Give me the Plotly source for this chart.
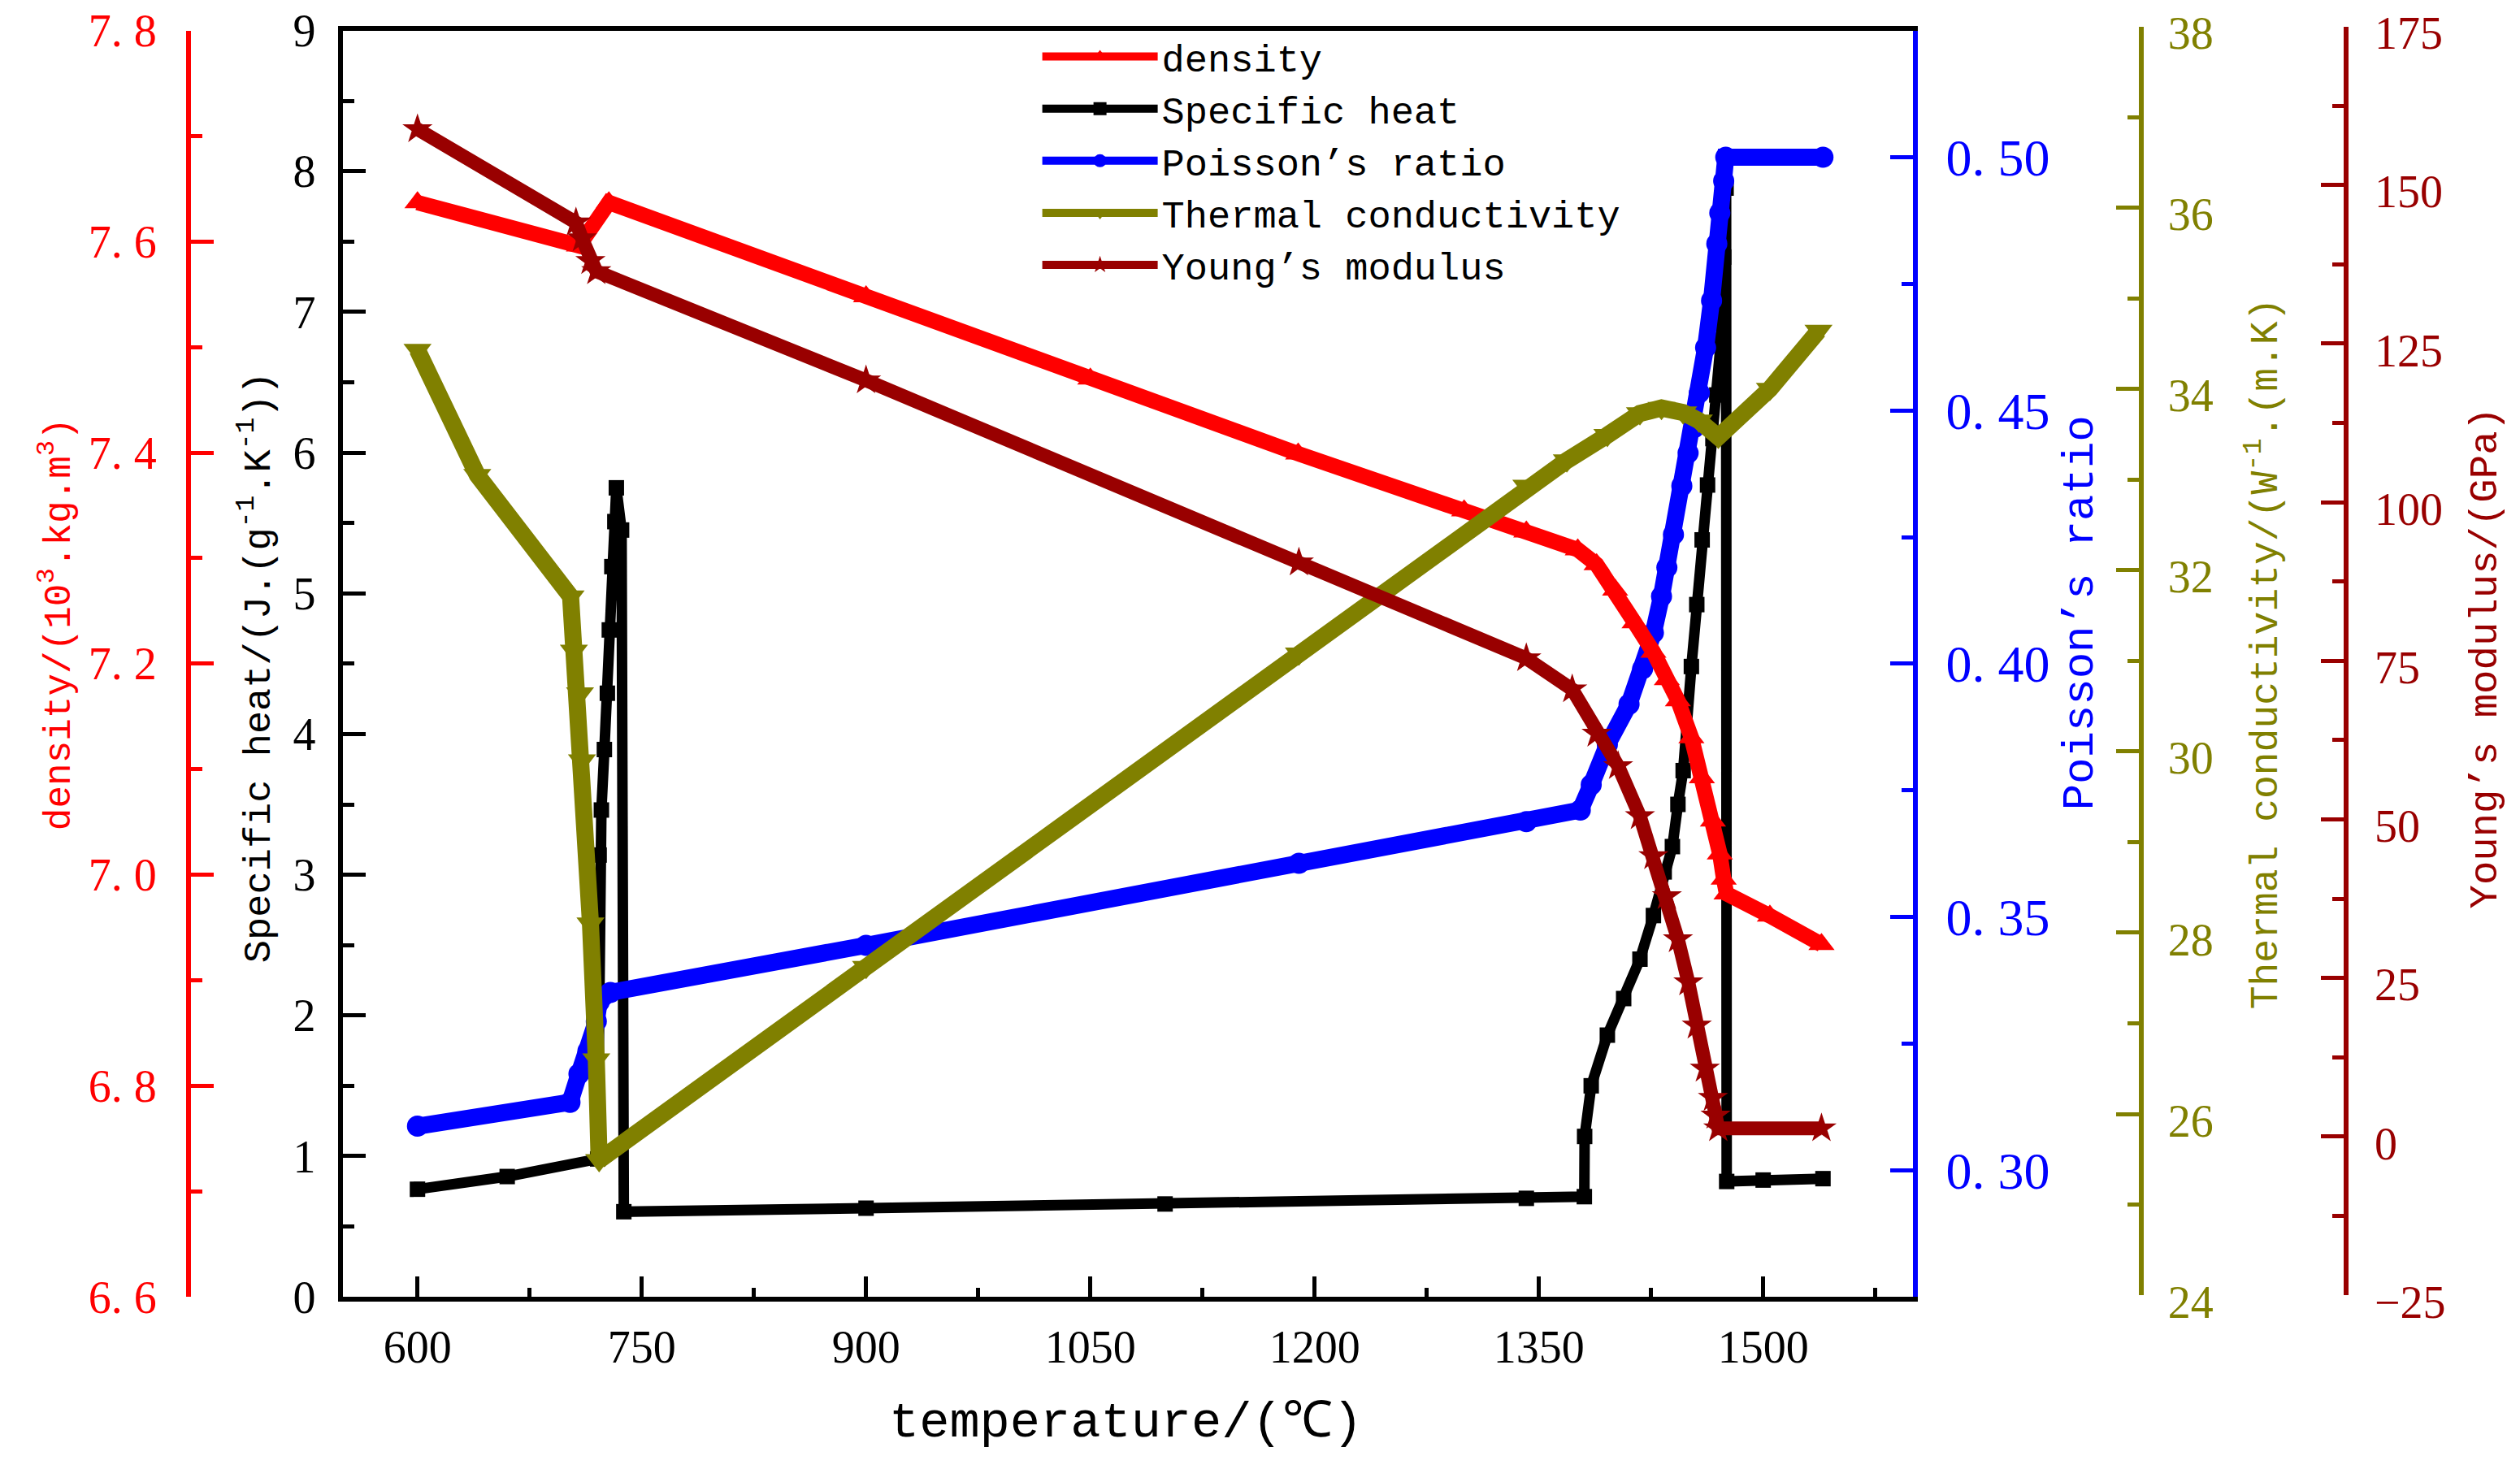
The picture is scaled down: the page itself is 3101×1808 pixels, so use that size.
import plotly.graph_objects as go

# temperature (C) / density (10^3 kg/m^3)
temp_density = [600, 708, 728, 900, 1050, 1189, 1300, 1341.6, 1376, 1388.6, 1401, 1414, 1426.6, 1435.6, 1443,
                1452, 1459, 1466.4, 1471, 1473.6, 1475.5, 1504.5, 1539]
density = [7.637, 7.596, 7.637, 7.548, 7.47, 7.399, 7.345, 7.325, 7.308, 7.294, 7.27, 7.239, 7.211, 7.185, 7.165,
           7.13, 7.092, 7.051, 7.02, 6.996, 6.982, 6.961, 6.934]

# specific heat J/(g.K)
temp_cp = [600, 660, 720.5, 721.5, 723, 725, 727, 728.3, 730, 732, 733, 736.5, 738, 900, 1100, 1341.6, 1380.4,
           1380.6, 1385, 1395.8, 1406.7, 1417.6, 1426.6, 1433.8, 1439.3, 1443, 1446.5, 1452, 1455.6, 1459.2,
           1462.8, 1466.4, 1469, 1471.8, 1473.6, 1475.2, 1475.6, 1500, 1540]
cp = [0.765, 0.855, 0.98, 3.14, 3.46, 3.89, 4.29, 4.74, 5.19, 5.51, 5.75, 5.45, 0.605, 0.63, 0.66, 0.70, 0.712,
      1.14, 1.5, 1.86, 2.12, 2.4, 2.71, 3.02, 3.2, 3.5, 3.74, 4.48, 4.92, 5.38,
      5.77, 6.1, 6.41, 6.8, 7.39, 7.88, 0.82, 0.83, 0.84]

# Poisson's ratio
temp_nu = [600, 702, 708, 714, 719.6, 721.5, 729, 900, 1189.5, 1341.6, 1377.7, 1385, 1395.8, 1410.3, 1419.4,
           1426.6, 1432, 1435.6, 1440, 1445.6, 1449.8, 1453.8, 1457.3, 1461.5, 1465.5, 1469, 1471, 1473.6, 1475, 1540]
nu = [0.3087, 0.3134, 0.319, 0.3235, 0.3294, 0.3332, 0.3351, 0.3444, 0.3606, 0.3688, 0.3711, 0.3761, 0.384, 0.392,
      0.399, 0.4061, 0.4133, 0.419, 0.4255, 0.4351, 0.4416, 0.4466, 0.4535, 0.4624, 0.4717, 0.4829, 0.489,
      0.4953, 0.50, 0.50]

# thermal conductivity W/(m.K)
temp_k = [600, 640, 702.4, 704.6, 708.7, 710, 715.7, 719.6, 721.5, 900, 1189.5, 1341.6, 1368.7, 1395.8, 1417.6,
          1432, 1446.5, 1457, 1470, 1504.5, 1537]
k = [34.43, 33.05, 31.71, 31.11, 30.64, 29.9, 28.1, 26.6, 25.49, 27.62, 31.08, 32.93, 33.21, 33.49, 33.73,
     33.79, 33.74, 33.65, 33.47, 34.0, 34.64]

# Young's modulus GPa
temp_e = [600, 706, 710, 715.7, 719.6, 900, 1189.5, 1341.6, 1372.3, 1388.6, 1403, 1417.6, 1426.6, 1435.6, 1443,
          1450, 1455.6, 1461, 1466.4, 1468.2, 1470, 1539]
young = [158.8, 144.1, 141.6, 138, 136.4, 119.2, 90.5, 75.4, 70.5, 63.5, 58.4, 50.5, 44.2, 37.9, 31.1,
         24.3, 17.5, 10.7, 6.1, 3.3, 1.3, 1.3]

# tick labels
density_ticks = [6.6, 6.8, 7.0, 7.2, 7.4, 7.6, 7.8]
density_labels = ["6. 6", "6. 8", "7. 0", "7. 2", "7. 4", "7. 6", "7. 8"]
nu_ticks = [0.30, 0.35, 0.40, 0.45, 0.50]
nu_labels = ["0. 30", "0. 35", "0. 40", "0. 45", "0. 50"]

RED = "#FF0000"
BLUE = "#0000FF"
OLIVE = "#808000"
WINE = "#990000"
SERIF = "Liberation Serif"
MONO = "Liberation Mono"

fig = go.Figure()
fig.add_trace(go.Scatter(x=temp_density, y=density, name="density", yaxis="y3",
                         mode="lines+markers", line=dict(color=RED, width=19),
                         marker=dict(symbol="triangle-up", size=28, color=RED)))
fig.add_trace(go.Scatter(x=temp_cp, y=cp, name="Specific heat", yaxis="y",
                         mode="lines+markers", line=dict(color="black", width=13),
                         marker=dict(symbol="square", size=19, color="black")))
fig.add_trace(go.Scatter(x=temp_nu, y=nu, name="Poisson’s ratio", yaxis="y2",
                         mode="lines+markers", line=dict(color=BLUE, width=21),
                         marker=dict(symbol="circle", size=26, color=BLUE)))
fig.add_trace(go.Scatter(x=temp_k, y=k, name="Thermal conductivity", yaxis="y4",
                         mode="lines+markers", line=dict(color=OLIVE, width=21),
                         marker=dict(symbol="triangle-down", size=30, color=OLIVE)))
fig.add_trace(go.Scatter(x=temp_e, y=young, name="Young’s modulus", yaxis="y5",
                         mode="lines+markers", line=dict(color=WINE, width=17),
                         marker=dict(symbol="star", size=28, color=WINE)))


def yax(color, rng, **kw):
    d = dict(range=rng, showgrid=False, zeroline=False, showline=True, linewidth=6, linecolor=color,
             ticks="inside", ticklen=28, tickwidth=5, tickcolor=color, automargin=False,
             ticklabeloverflow="allow",
             tickfont=dict(family=SERIF, size=56, color=color))
    d.update(kw)
    return d


fig.update_layout(
    width=3101, height=1808,
    margin=dict(l=0, r=0, t=0, b=0, autoexpand=False),
    paper_bgcolor="white", plot_bgcolor="rgba(0,0,0,0)",
    showlegend=True,
    legend=dict(x=0.412, y=0.982, xanchor="left", yanchor="top", bgcolor="rgba(0,0,0,0)",
                font=dict(family=MONO, size=47, color="black"), tracegroupgap=0, itemwidth=142),
    xaxis=dict(domain=[0.136, 0.759], range=[550, 1600], anchor="y", automargin=False,
               tick0=600, dtick=150, ticks="inside", ticklen=25, tickwidth=5, tickcolor="black",
               minor=dict(ticks="inside", ticklen=11, tickwidth=5, tickcolor="black", tick0=600, dtick=75),
               showline=True, linewidth=6, linecolor="black", mirror=True,
               showgrid=False, zeroline=False, ticklabelstandoff=8, ticklabeloverflow="allow",
               tickfont=dict(family=SERIF, size=56, color="black")),
    yaxis=yax("black", [0, 9], domain=[0.1172, 0.9792], anchor="x", tick0=0, dtick=1,
              minor=dict(ticks="inside", ticklen=14, tickwidth=5, tickcolor="black", tick0=0, dtick=0.5),
              ticklabelstandoff=16),
    yaxis2=yax(BLUE, [0.275, 0.525], overlaying="y", side="right", anchor="x",
               tickmode="array", tickvals=nu_ticks, ticktext=nu_labels,
               minor=dict(ticks="inside", ticklen=14, tickwidth=5, tickcolor=BLUE, tick0=0.275, dtick=0.05),
               tickfont=dict(family=SERIF, size=64, color=BLUE), ticklabelstandoff=22),
    yaxis3=yax(RED, [6.6, 7.8], overlaying="y", side="left", anchor="free", position=0.0748,
               tickmode="array", tickvals=density_ticks, ticktext=density_labels,
               minor=dict(ticks="inside", ticklen=14, tickwidth=5, tickcolor=RED, tick0=6.7, dtick=0.2),
               ticklabelstandoff=25),
    yaxis4=yax(OLIVE, [24, 38], domain=[0.1183, 0.982], side="right", anchor="free", position=0.8496,
               tick0=24, dtick=2, ticklabelshift=8,
               minor=dict(ticks="inside", ticklen=14, tickwidth=5, tickcolor=OLIVE, tick0=25, dtick=2),
               ticklabelstandoff=19),
    yaxis5=yax(WINE, [-25, 175], domain=[0.1183, 0.982], side="right", anchor="free", position=0.9309,
               tick0=-25, dtick=25, ticklabelshift=8,
               minor=dict(ticks="inside", ticklen=14, tickwidth=5, tickcolor=WINE, tick0=-12.5, dtick=25),
               ticklabelstandoff=21),
)

# axis titles
titles = [
    ("density/(10<sup>3</sup>.kg.m<sup>3</sup>)", 0.0225, 0.575, RED, 46),
    ("Specific heat/(J.(g<sup>-1</sup>.K<sup>-1</sup>))", 0.102, 0.546, "black", 47),
    ("Poisson’s ratio", 0.826, 0.583, BLUE, 54),
    ("Thermal conductivity/(W<sup>-1</sup>.(m.K)", 0.898, 0.555, OLIVE, 48),
    ("Young’s modulus/(GPa)", 0.9866, 0.5525, WINE, 49),
]
for text, xp, yp, col, sz in titles:
    fig.add_annotation(text=text, x=xp, y=yp, xref="paper", yref="paper", showarrow=False,
                       textangle=-90, xanchor="center", yanchor="middle",
                       font=dict(family=MONO, size=sz, color=col))

fig.add_annotation(text="temperature/(℃)", x=0.4467, y=0.031, xref="paper", yref="paper",
                   showarrow=False, xanchor="center", yanchor="middle",
                   font=dict(family=MONO, size=62, color="black"))

fig.write_html("out.html", config={"displayModeBar": False},
               post_script="document.body.style.margin='0';")
